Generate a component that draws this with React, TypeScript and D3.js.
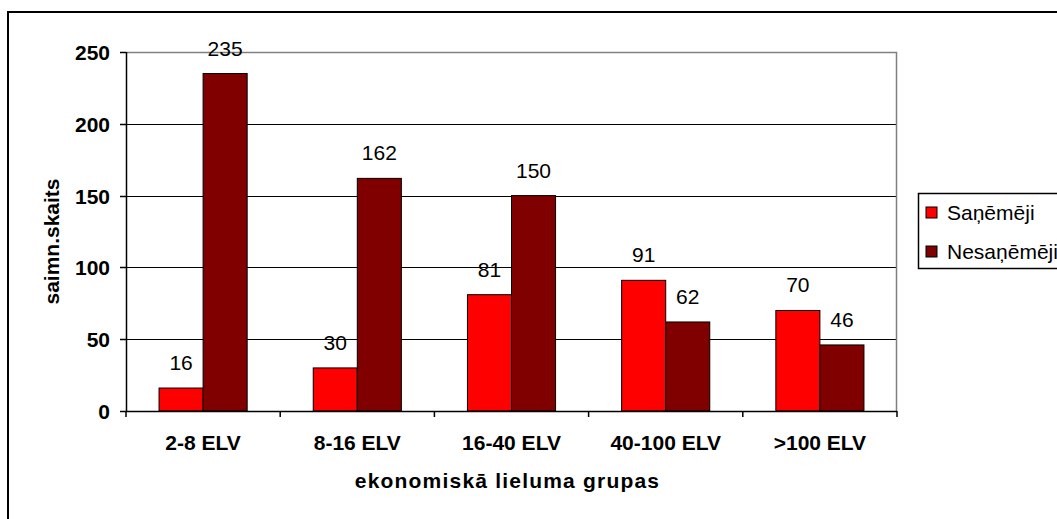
import React from 'react';
import * as d3 from 'd3';

const categories = ['2-8 ELV', '8-16 ELV', '16-40 ELV', '40-100 ELV', '>100 ELV'];
const seriesNames = ['Saņēmēji', 'Nesaņēmēji'];
const received = [16, 30, 81, 91, 70];
const notReceived = [235, 162, 150, 62, 46];
const seriesColors = ['#ff0000', '#800000'];
const yTicks = [0, 50, 100, 150, 200, 250];

const W = 1057;
const H = 519;
const margin = { top: 52, right: 160, bottom: 108, left: 126 };

export default function App() {
  const innerW = W - margin.left - margin.right;
  const innerH = H - margin.top - margin.bottom;

  const x = d3.scaleBand<string>().domain(categories).range([0, innerW]);
  // Excel-style gap width 150%: bar = band / 3.5
  const barW = x.bandwidth() / 3.5;
  const y = d3.scaleLinear().domain([0, 250]).range([innerH, 0]);

  const series = [received, notReceived];
  const font = 'Arial, "Liberation Sans", sans-serif';

  return (
    <svg width={W} height={H} style={{ position: 'absolute', left: 0, top: 0, background: '#fff' }} fontFamily={font}>
      {/* outer chart frame */}
      <rect x={8} y={12} width={1100} height={600} fill="#fff" stroke="#000" strokeWidth={2} />

      <g transform={`translate(${margin.left},${margin.top})`}>
        {/* gridlines */}
        {yTicks.filter(t => t > 0).map(t => (
          <line key={t} x1={0} x2={innerW} y1={Math.round(y(t)) + 0.5} y2={Math.round(y(t)) + 0.5} stroke="#000" />
        ))}
        {/* plot area border top/right */}
        <path d={`M0,0.5H${innerW - 0.5}V${innerH}`} fill="none" stroke="#808080" strokeWidth={1.5} />

        {/* bars */}
        {categories.map((c, i) => (
          <g key={c}>
            {series.map((s, k) => {
              const bx = (x(c) || 0) + barW * 0.75 + k * barW;
              const by = y(s[i]);
              return (
                <g key={k}>
                  <rect x={bx} y={by} width={barW} height={innerH - by} fill={seriesColors[k]} stroke="#000" strokeWidth={1} />
                  <text x={bx + barW / 2} y={by - 18} textAnchor="middle" fontSize={21} fill="#000">{s[i]}</text>
                </g>
              );
            })}
          </g>
        ))}

        {/* y axis */}
        <line x1={0.5} x2={0.5} y1={0} y2={innerH} stroke="#000" strokeWidth={1.5} />
        {yTicks.map(t => (
          <g key={t} transform={`translate(0,${Math.round(y(t)) + 0.5})`}>
            <line x1={-6} x2={0} stroke="#000" strokeWidth={1.5} />
            <text x={-16} dy="0.35em" textAnchor="end" fontSize={21} fontWeight="bold">{t}</text>
          </g>
        ))}

        {/* x axis */}
        <line x1={0} x2={innerW} y1={innerH + 0.5} y2={innerH + 0.5} stroke="#000" strokeWidth={1.5} />
        {[...categories.map(c => x(c) || 0), innerW].map((px, i) => (
          <line key={i} x1={px} x2={px} y1={innerH} y2={innerH + 6} stroke="#000" strokeWidth={1.5} />
        ))}
        {categories.map(c => (
          <text key={c} x={(x(c) || 0) + x.bandwidth() / 2} y={innerH + 32} dy="0.35em" textAnchor="middle" fontSize={21} fontWeight="bold">{c}</text>
        ))}

        {/* axis titles */}
        <text x={innerW / 2 - 4} y={innerH + 70} dy="0.35em" textAnchor="middle" fontSize={21} fontWeight="bold" letterSpacing={1.2}>ekonomiskā lieluma grupas</text>
        <text transform={`translate(${52 - margin.left},${innerH / 2 + 10}) rotate(-90)`} textAnchor="middle" dy="0.35em" fontSize={21} fontWeight="bold">saimn.skaits</text>
      </g>

      {/* legend */}
      <g transform="translate(918,193)">
        <rect x={0.5} y={0.5} width={160} height={75} fill="#fff" stroke="#000" strokeWidth={1.5} />
        {seriesNames.map((n, k) => (
          <g key={n} transform={`translate(8,${20 + k * 39})`}>
            <rect x={0} y={-6} width={11} height={11} fill={seriesColors[k]} stroke="#000" strokeWidth={1} />
            <text x={21} dy="0.35em" fontSize={21}>{n}</text>
          </g>
        ))}
      </g>
    </svg>
  );
}
